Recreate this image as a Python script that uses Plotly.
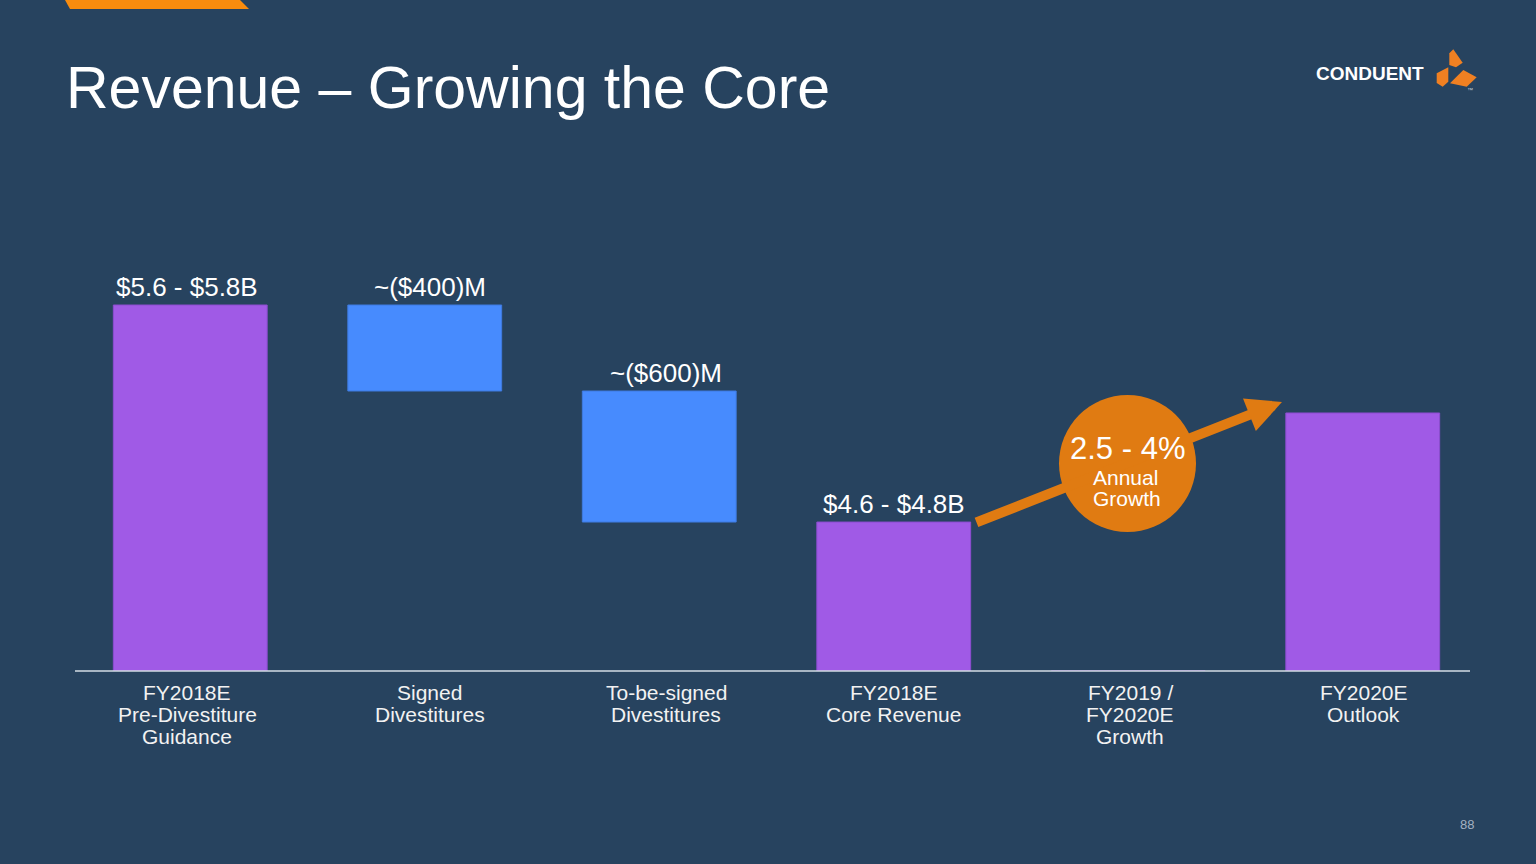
import plotly.graph_objects as go

# ---------------- data ----------------
categories = ["FY2018E Pre-Divestiture Guidance", "Signed Divestitures",
              "To-be-signed Divestitures", "FY2018E Core Revenue",
              "FY2019 / FY2020E Growth", "FY2020E Outlook"]
category_lines = [["FY2018E", "Pre-Divestiture", "Guidance"],
                  ["Signed", "Divestitures"],
                  ["To-be-signed", "Divestitures"],
                  ["FY2018E", "Core Revenue"],
                  ["FY2019 /", "FY2020E", "Growth"],
                  ["FY2020E", "Outlook"]]
# bar heights as drawn (relative index, pre-divestiture guidance = 100)
start_value = 100.0
signed_change = -23.5
tobesigned_change = -35.8
core_value = 40.7
outlook_value = 70.5
value_labels = ["$5.6 - $5.8B", "~($400)M", "~($600)M", "$4.6 - $4.8B", "", ""]
growth_label = ["2.5 - 4%", "Annual", "Growth"]

# derived waterfall geometry
after_signed = start_value + signed_change
after_tbs = after_signed + tobesigned_change
bases = [0, after_signed, after_tbs, 0, 0, 0]
heights = [start_value, -signed_change, -tobesigned_change, core_value, 0, outlook_value]

# ---------------- style ----------------
BG = "#27435F"
PURPLE = "#A05AE6"
BLUE = "#478BFE"
ORANGE = "#E07B12"
LOGO_ORANGE = "#F08022"
FONT = "Liberation Sans, Arial, sans-serif"
colors = [PURPLE, BLUE, BLUE, PURPLE, PURPLE, PURPLE]
lines = ["#8C4CD0", "#3F7BE0", "#3F7BE0", "#8C4CD0", "#8C4CD0", "#8C4CD0"]
label_xshift = [-3, 5, 7, 0, 0, 0]

W, H = 1536, 864
L, R, T, B = 73, 1480, 150, 671
PX_PER_UNIT = 3.66
YMAX = (B - T) / PX_PER_UNIT


def px(x):
    return (x - L) / (R - L)


def py(y):
    return (B - y) / (B - T)


fig = go.Figure()
fig.add_trace(go.Bar(
    x=categories, y=heights, base=bases,
    marker=dict(color=colors, line=dict(color=lines, width=1)),
    width=0.656, hoverinfo="skip",
))

annotations = []
# value labels above bars
for i, t in enumerate(value_labels):
    if t:
        annotations.append(dict(
            x=categories[i], xref="x", y=bases[i] + heights[i], yref="y",
            text=t, showarrow=False, xanchor="center", yanchor="bottom",
            xshift=label_xshift[i], yshift=1,
            font=dict(color="#FFFFFF", size=26, family=FONT)))

# category labels (one annotation per line for tight spacing)
cat_xshift = [-3, 5, 7, 0, 2, 1]
for i, lns in enumerate(category_lines):
    for j, t in enumerate(lns):
        annotations.append(dict(
            x=categories[i], xref="x", y=py(692 + 22 * j), yref="paper",
            text=t, showarrow=False, xanchor="center", yanchor="middle",
            xshift=cat_xshift[i],
            font=dict(color="#F2F2F2", size=21, family=FONT)))

# growth arrow
annotations.append(dict(
    x=px(1282), y=py(402), xref="paper", yref="paper",
    ax=975 - 1282, ay=523 - 402, axref="pixel", ayref="pixel",
    text="", showarrow=True, arrowhead=2, arrowsize=0.7, arrowwidth=10,
    arrowcolor=ORANGE, standoff=0, startstandoff=0))

# circle text
annotations += [
    dict(x=px(1127), y=py(449), xref="paper", yref="paper", text=growth_label[0],
         showarrow=False, xanchor="center", yanchor="middle",
         font=dict(color="#FFFFFF", size=31, family=FONT)),
    dict(x=px(1125), y=py(478), xref="paper", yref="paper", text=growth_label[1],
         showarrow=False, xanchor="center", yanchor="middle",
         font=dict(color="#FFFFFF", size=21, family=FONT)),
    dict(x=px(1127), y=py(498), xref="paper", yref="paper", text=growth_label[2],
         showarrow=False, xanchor="center", yanchor="middle",
         font=dict(color="#FFFFFF", size=21, family=FONT)),
]

# title
annotations.append(dict(
    x=px(64), y=py(88), xref="paper", yref="paper", text="Revenue – Growing the Core",
    showarrow=False, xanchor="left", yanchor="middle",
    font=dict(color="#FFFFFF", size=59, family=FONT)))
# logo text
annotations.append(dict(
    x=px(1426), y=py(74), xref="paper", yref="paper", text="<b>CONDUENT</b>",
    showarrow=False, xanchor="right", yanchor="middle",
    font=dict(color="#FFFFFF", size=19, family=FONT)))
annotations.append(dict(
    x=px(1470), y=py(90), xref="paper", yref="paper", text="™",
    showarrow=False, xanchor="center", yanchor="middle",
    font=dict(color="#C8D0DA", size=6, family=FONT)))
# page number
annotations.append(dict(
    x=px(1467), y=py(824), xref="paper", yref="paper", text="88",
    showarrow=False, xanchor="center", yanchor="middle",
    font=dict(color="#A3B1C2", size=13, family=FONT)))


def poly(points):
    return "M " + " L ".join(f"{px(x):.5f},{py(y):.5f}" for x, y in points) + " Z"


shapes = [
    # axis line
    dict(type="line", xref="paper", yref="paper", x0=px(75), x1=px(1470),
         y0=0, y1=0, line=dict(color="#D5DCE4", width=1.5), layer="above"),
    # top-left orange accent
    dict(type="path", xref="paper", yref="paper",
         path=poly([(65, 0), (240, 0), (249, 9), (70, 9)]),
         fillcolor="#F98C0E", line=dict(width=0)),
    # growth circle
    dict(type="circle", xref="paper", yref="paper",
         x0=px(1059), x1=px(1196), y0=py(532), y1=py(395),
         fillcolor=ORANGE, line=dict(width=0), layer="above"),
    # logo pieces
    dict(type="path", xref="paper", yref="paper",
         path=poly([(1449.3, 53.3), (1453.3, 49.3), (1462.7, 62.7), (1456, 67.3), (1449.3, 65)]),
         fillcolor=LOGO_ORANGE, line=dict(width=0)),
    dict(type="path", xref="paper", yref="paper",
         path=poly([(1448.3, 67.3), (1436.7, 73.3), (1436.7, 83), (1442.7, 86.7), (1448.3, 81.7)]),
         fillcolor=LOGO_ORANGE, line=dict(width=0)),
    dict(type="path", xref="paper", yref="paper",
         path=poly([(1463.3, 70), (1476.7, 77.3), (1466.7, 86.7), (1450, 83.3)]),
         fillcolor=LOGO_ORANGE, line=dict(width=0)),
]

fig.update_layout(
    width=W, height=H,
    margin=dict(l=L, r=W - R, t=T, b=H - B, pad=0),
    paper_bgcolor=BG, plot_bgcolor=BG,
    showlegend=False,
    xaxis=dict(showticklabels=False, showgrid=False, zeroline=False, showline=False,
               ticks="", categoryorder="array", categoryarray=categories,
               range=[-0.5, 5.5]),
    yaxis=dict(range=[0, YMAX], visible=False, showgrid=False, zeroline=False),
    annotations=annotations,
    shapes=shapes,
    font=dict(family=FONT),
)

fig.write_html("out.html")
